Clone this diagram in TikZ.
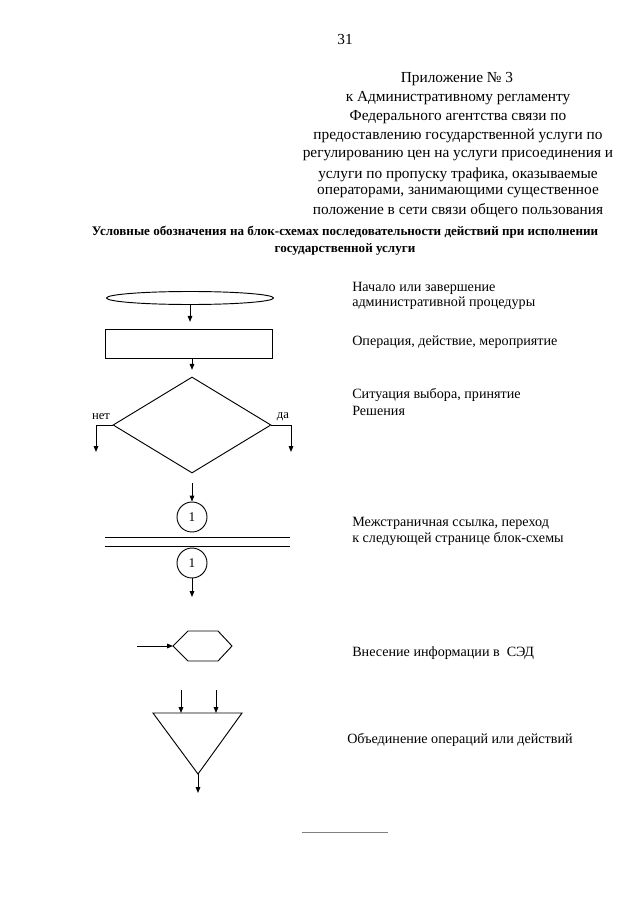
\documentclass[tikz,border=0pt]{standalone}
\usepackage{fontspec}
\setmainfont{Liberation Serif}
\usetikzlibrary{shapes.geometric,arrows.meta}
\begin{document}
\begin{tikzpicture}[x=0.75pt,y=-0.75pt,
  line/.style={line width=0.7pt},
  arr/.style={line width=0.7pt,-{Triangle[length=4.5pt,width=3.5pt]}},
  hdr/.style={font=\fontsize{11.5}{13}\selectfont,anchor=center,inner sep=0},
  lbl/.style={font=\fontsize{10.6}{13}\selectfont,anchor=west,inner sep=0},
  ttl/.style={font=\fontsize{9.8}{12}\selectfont\bfseries,anchor=center,inner sep=0}]
\useasboundingbox[fill=white] (0,0) rectangle (640,905);
% page number and header
\node[hdr] (pg) at (345,40) {31};
\node[hdr] (h1) at (457,79) {Приложение № 3};
\node[hdr] (h2) at (458,98) {к Административному регламенту};
\node[hdr] (h3) at (458,117) {Федерального агентства связи по};
\node[hdr] (h4) at (458,136) {предоставлению государственной услуги по};
\node[hdr] (h5) at (458,156) {регулированию цен на услуги присоединения и};
\node[hdr] (h6) at (458,175) {услуги по пропуску трафика, оказываемые};
\node[hdr] (h7) at (458,193) {операторами, занимающими существенное};
\node[hdr] (h8) at (458,211) {положение в сети связи общего пользования};
% title
\node[ttl] (t1) at (345,232) {Условные обозначения на блок-схемах последовательности действий при исполнении};
\node[ttl] (t2) at (345,249) {государственной услуги};
% shapes
\node[line,draw,ellipse,inner sep=0,minimum width=167*0.75pt,minimum height=13*0.75pt] (ell) at (190,298) {};
\node[line,draw,rectangle,inner sep=0,minimum width=167*0.75pt,minimum height=29*0.75pt] (rect) at (189,343.5) {};
\node[line,draw,diamond,inner sep=0,minimum width=158*0.75pt,minimum height=96*0.75pt] (dia) at (192,425) {};
\draw[arr,shorten >=5pt] (ell.south) -- (ell.south|-rect.north);
\draw[arr,shorten >=5pt] (rect.south-|dia.north) -- (dia.north);
\coordinate (noend) at (96,452);
\coordinate (daend) at (291,452);
\draw[arr] (dia.west) -| (noend);
\draw[arr] (dia.east) -| (daend);
\node[inner sep=0,font=\fontsize{9.5}{11}\selectfont] (no) at (101,417) {нет};
\node[inner sep=0,font=\fontsize{9.5}{11}\selectfont] (yes) at (283,417) {да};
% connectors
\node[line,draw,circle,inner sep=0,minimum size=30*0.75pt,font=\fontsize{10}{12}\selectfont] (c1) at (192,517) {1};
\node[line,draw,circle,inner sep=0,minimum size=30*0.75pt,font=\fontsize{10}{12}\selectfont] (c2) at (192,563) {1};
\coordinate (c1in) at (192,483);
\coordinate (c2out) at (192,597);
\draw[arr] (c1in) -- (c1.north);
\draw[arr] (c2.south) -- (c2out);
\coordinate (l1a) at (105,537); \coordinate (l1b) at (290,537);
\coordinate (l2a) at (105,546); \coordinate (l2b) at (290,546);
\draw[line] (l1a) -- (l1b);
\draw[line] (l2a) -- (l2b);
% hexagon
\coordinate (hxl) at (173,646);
\coordinate (hxr) at (232,646);
\draw[line] (hxl) -- (188,631) -- (218,631) -- (hxr) -- (218,661) -- (188,661) -- cycle;
\coordinate (hxin) at (137,646);
\draw[arr] (hxin) -- (hxl);
% triangle
\coordinate (trl) at (153,713);
\coordinate (trr) at (242,713);
\coordinate (trap) at (198,774);
\draw[line] (trl) -- (trr) -- (trap) -- cycle;
\coordinate (ti1) at (181,690); \coordinate (to1) at (181,713);
\coordinate (ti2) at (216,690); \coordinate (to2) at (216,713);
\draw[arr] (ti1) -- (to1);
\draw[arr] (ti2) -- (to2);
\coordinate (trout) at (198,793);
\draw[arr] (trap) -- (trout);
% labels
\node[lbl] (d1a) at (352,288) {Начало или завершение};
\node[lbl] (d1b) at (352,303) {административной процедуры};
\node[lbl] (d2) at (352,342) {Операция, действие, мероприятие};
\node[lbl] (d3a) at (352,395) {Ситуация выбора, принятие};
\node[lbl] (d3b) at (352,411) {Решения};
\node[lbl] (d4a) at (352,523) {Межстраничная ссылка, переход};
\node[lbl] (d4b) at (352,539) {к следующей странице блок-схемы};
\node[lbl] (d5) at (352,653) {Внесение информации в \ СЭД};
\node[lbl] (d6) at (347,740) {Объединение операций или действий};
% bottom rule
\coordinate (bra) at (302,832); \coordinate (brb) at (388,832);
\draw[line width=0.6pt,gray] (bra) -- (brb);
\end{tikzpicture}
\end{document}
